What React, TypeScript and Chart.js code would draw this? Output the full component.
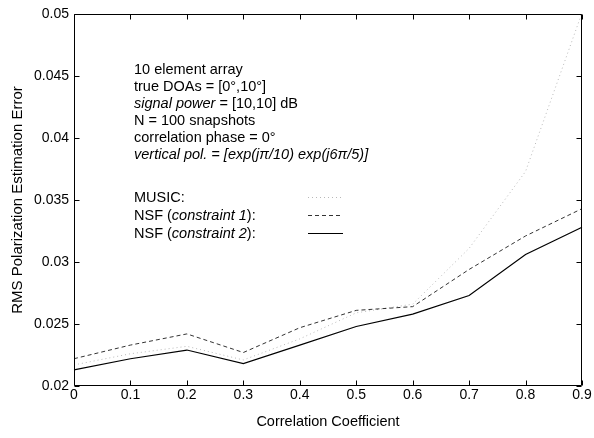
import React, { useEffect, useRef } from "react";
import { Chart, registerables } from "chart.js";

Chart.register(...registerables);

const xLabels = ["0", "0.1", "0.2", "0.3", "0.4", "0.5", "0.6", "0.7", "0.8", "0.9"];
const yTicks = [0.02, 0.025, 0.03, 0.035, 0.04, 0.045, 0.05];
const yTickLabels = ["0.02", "0.025", "0.03", "0.035", "0.04", "0.045", "0.05"];

const musicValues = [0.0217, 0.0226, 0.0232, 0.0221, 0.0238, 0.0259, 0.0266, 0.0311, 0.0373, 0.0501];
const nsf1Values = [0.0222, 0.0233, 0.0242, 0.0227, 0.0247, 0.0261, 0.0264, 0.0294, 0.0321, 0.0343];
const nsf2Values = [0.0213, 0.0222, 0.0229, 0.0218, 0.0233, 0.0248, 0.0258, 0.0273, 0.0306, 0.0328];

const FONT = '"Liberation Sans", Arial, Helvetica, sans-serif';
const MUSIC_COLOR = "rgba(0,0,0,0.28)";

type Seg = [string, boolean];
const infoLines: Seg[][] = [
  [["10 element array", false]],
  [["true DOAs = [0°,10°]", false]],
  [["signal power", true], [" = [10,10] dB", false]],
  [["N = 100 snapshots", false]],
  [["correlation phase = 0°", false]],
  [["vertical pol. = [exp(jπ/10) exp(j6π/5)]", true]],
];
const legendLines: Seg[][] = [
  [["MUSIC:", false]],
  [["NSF (", false], ["constraint 1", true], ["):", false]],
  [["NSF (", false], ["constraint 2", true], ["):", false]],
];

const framePlugin = {
  id: "frame",
  afterDraw(chart: any) {
    const { ctx, chartArea, scales } = chart;
    const { left, right, top, bottom } = chartArea;
    const x = scales.x;
    const y = scales.y;
    ctx.save();
    ctx.strokeStyle = "#000";
    ctx.lineWidth = 1;
    const L = Math.round(left) + 0.5;
    const R = Math.round(right) - 0.5;
    const T = Math.round(top) + 0.5;
    const B = Math.round(bottom) - 0.5;
    ctx.beginPath();
    ctx.rect(L, T, R - L, B - T);
    ctx.stroke();
    const tl = 5;
    ctx.beginPath();
    xLabels.forEach((_, i) => {
      const px = Math.round(x.getPixelForValue(i)) + 0.5;
      ctx.moveTo(px, B);
      ctx.lineTo(px, B - tl);
      ctx.moveTo(px, T);
      ctx.lineTo(px, T + tl);
    });
    yTicks.forEach((v) => {
      const py = Math.round(y.getPixelForValue(v)) + 0.5;
      ctx.moveTo(L, py);
      ctx.lineTo(L + tl, py);
      ctx.moveTo(R, py);
      ctx.lineTo(R - tl, py);
    });
    ctx.stroke();

    // annotation text
    ctx.fillStyle = "#000";
    ctx.textBaseline = "alphabetic";
    ctx.textAlign = "left";
    const drawSegs = (segs: Seg[], x0: number, yb: number) => {
      let cx = x0;
      segs.forEach(([t, it]) => {
        ctx.font = `${it ? "italic " : ""}14.5px ${FONT}`;
        ctx.fillText(t, cx, yb);
        cx += ctx.measureText(t).width;
      });
    };
    const tx = 134;
    infoLines.forEach((segs, i) => drawSegs(segs, tx, 74 + i * 17));
    legendLines.forEach((segs, i) => drawSegs(segs, tx, 202 + i * 18));

    // legend samples
    const sx0 = 308;
    const sx1 = 343;
    const styles = [
      { dash: [1, 3], color: MUSIC_COLOR, w: 1 },
      { dash: [4, 3], color: "#333", w: 1 },
      { dash: [], color: "#000", w: 1.2 },
    ];
    styles.forEach((s, i) => {
      const sy = 197.5 + i * 18;
      ctx.beginPath();
      ctx.setLineDash(s.dash);
      ctx.strokeStyle = s.color;
      ctx.lineWidth = s.w;
      ctx.moveTo(sx0, sy);
      ctx.lineTo(sx1, sy);
      ctx.stroke();
    });
    ctx.restore();
  },
};

export default function App() {
  const ref = useRef<HTMLCanvasElement | null>(null);
  useEffect(() => {
    if (!ref.current) return;
    const chart = new Chart(ref.current, {
      type: "line",
      data: {
        labels: xLabels,
        datasets: [
          {
            label: "MUSIC",
            data: musicValues,
            borderColor: MUSIC_COLOR,
            borderWidth: 1,
            borderDash: [1, 3],
            pointRadius: 0,
            tension: 0,
            fill: false,
          },
          {
            label: "NSF (constraint 1)",
            data: nsf1Values,
            borderColor: "#333",
            borderWidth: 1,
            borderDash: [4, 3],
            pointRadius: 0,
            tension: 0,
            fill: false,
          },
          {
            label: "NSF (constraint 2)",
            data: nsf2Values,
            borderColor: "#000",
            borderWidth: 1.2,
            pointRadius: 0,
            tension: 0,
            fill: false,
          },
        ],
      },
      options: {
        responsive: false,
        animation: false,
        layout: { padding: { left: 0, right: 12, top: 14, bottom: 0 } },
        plugins: {
          legend: { display: false },
          tooltip: { enabled: false },
        },
        scales: {
          x: {
            type: "category",
            offset: false,
            grid: { display: false, drawTicks: false },
            border: { display: false },
            ticks: {
              color: "#000",
              font: { family: FONT, size: 14 },
              padding: 1,
              maxRotation: 0,
              autoSkip: false,
            },
            title: {
              display: true,
              text: "Correlation Coefficient",
              color: "#000",
              font: { family: FONT, size: 14.5 },
              padding: { top: 0, bottom: 7 },
            },
            afterFit: (scale: any) => {
              scale.height = 52;
            },
          },
          y: {
            type: "linear",
            min: 0.02,
            max: 0.05,
            grid: { display: false, drawTicks: false },
            border: { display: false },
            afterBuildTicks: (scale: any) => {
              scale.ticks = yTicks.map((v) => ({ value: v }));
            },
            ticks: {
              color: "#000",
              font: { family: FONT, size: 14 },
              padding: 5,
              callback: (_v: any, i: number) => yTickLabels[i],
            },
            title: {
              display: true,
              text: "RMS Polarization Estimation Error",
              color: "#000",
              font: { family: FONT, size: 15 },
              padding: { top: 9, bottom: 0 },
            },
            afterFit: (scale: any) => {
              scale.width = 74;
            },
          },
        },
      },
      plugins: [framePlugin],
    });
    return () => chart.destroy();
  }, []);
  return (
    <div style={{ position: "absolute", left: 0, top: 0, width: 594, height: 438, background: "#fff" }}>
      <canvas ref={ref} width={594} height={438} style={{ display: "block" }} />
    </div>
  );
}
